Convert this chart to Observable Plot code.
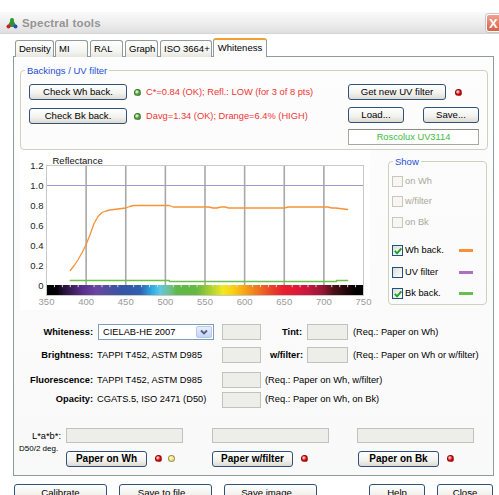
<!DOCTYPE html>
<html><head><meta charset="utf-8">
<script src="https://cdn.jsdelivr.net/npm/d3@7"></script>
<script src="https://cdn.jsdelivr.net/npm/@observablehq/plot@0.6"></script>
<style>
html,body{margin:0;padding:0}
body{width:499px;height:495px;overflow:hidden;background:#fff;font-family:"Liberation Sans",Arial,sans-serif;font-size:9.3px;color:#000}
#win{position:relative;width:499px;height:495px;overflow:hidden}
#win div{position:absolute;box-sizing:border-box;white-space:nowrap}
.title{background:linear-gradient(#fafafa,#ececec 60%,#dedede);border-bottom:1px solid #d4d4d4}
.tab{border:1px solid #919b9c;border-bottom:none;border-radius:3px 3px 0 0;background:linear-gradient(#fff,#f3f3ef 70%,#e6e5de);padding-left:3px;line-height:16px;font-size:9.5px}
.tab.on{background:#fcfcfe;border-top:2px solid #f0a030;line-height:16px;text-align:center;padding:0;z-index:2}
.panel{border:1px solid #919b9c;background:linear-gradient(#fdfdfe,#f9f9fa)}
.grp{border:1px solid #d0d0bf;border-radius:4px}
.glab{color:#1e4fd0;background:#fcfcfe;padding:0 2px;line-height:11px;font-size:9.5px}
.btn{border:1px solid #33507a;border-radius:3px;background:linear-gradient(#ffffff,#f1f1ed 60%,#dcdad3);text-align:center;font-size:9.6px}
.btn.b{font-weight:bold;font-size:10px}
.t{line-height:14px}
.r{text-align:right}
.inp{border:1px solid #c2c2ba;background:#ededea}
.dot{border-radius:50%;border:1px solid rgba(0,0,0,.35)}
.cb{border:1px solid #1c5180;background:linear-gradient(135deg,#dcdcd7,#fff)}
.cb.dis{border-color:#c9c7ba;background:#f6f6f4}
</style></head>
<body><div id="win"></div>
<script>
// ---------- chart data ----------
const whWavelength = [380,385,390,395,400,405,410,415,420,425,430,440,450,455,460,470,480,490,500,505,510,520,530,540,550,555,560,565,570,575,580,590,600,610,620,630,640,650,655,660,670,680,690,700,705,710,715,720,725,730];
const whReflectance = [0.15,0.20,0.26,0.33,0.41,0.51,0.62,0.69,0.73,0.745,0.755,0.765,0.775,0.79,0.80,0.80,0.80,0.80,0.80,0.80,0.785,0.785,0.785,0.785,0.785,0.785,0.775,0.775,0.785,0.785,0.775,0.775,0.775,0.775,0.775,0.775,0.775,0.775,0.785,0.785,0.785,0.785,0.785,0.785,0.785,0.775,0.775,0.77,0.765,0.76];
const bkWavelength = [380,505,716,730];
const bkReflectance = [0.05,0.04,0.05,0.05];
const xTickValues = [350,400,450,500,550,600,650,700,750];
const yTickValues = [0,0.2,0.4,0.6,0.8,1.0,1.2];
const gridWavelengths = [400,450,500,550,600,650,700];
const minorTickWavelengths = [360,370,380,390,410,420,430,440,460,470,480,490,510,520,530,540,560,570,580,590,610,620,630,640,660,670,680,690,710,720,730,740];
const spectrumStops = [350,364,371,384,397,414,431,447,469,485,494,506,515,540,557,573,586,599,616,633,649,666,683,700,712,729,742,750];
const spectrumColors = ["#000000","#050208","#201030","#402060","#5a3090","#6a48a0","#4a50a0","#3555a5","#3060b0","#30b0e8","#60c8e0","#70c090","#60b848","#66b840","#a8d030","#f0e820","#f8d010","#f8a818","#f07820","#e84828","#e82030","#e01838","#c01840","#901830","#501018","#200808","#000000","#000000"];

const W = document.getElementById("win");
function add(cls, l, t, w, h, html, css) {
  const d = document.createElement("div");
  d.className = cls;
  d.style.left = l + "px"; d.style.top = t + "px";
  if (w != null) d.style.width = w + "px";
  if (h != null) d.style.height = h + "px";
  if (html != null) d.innerHTML = html;
  if (css) d.style.cssText += css;
  W.appendChild(d);
  return d;
}
function btn(text, l, t, w, h, bold) { return add("btn" + (bold ? " b" : ""), l, t, w, h, text, `line-height:${h - 2}px`); }
function txt(text, x, cy, css) { return add("t", x, cy - 7, null, 14, text, css || ""); }
function rtxt(text, xr, cy, css) { return add("t r", xr - 160, cy - 7, 160, 14, text, css || ""); }
function dot(cx, cy, c) { return add("dot", cx - 3.5, cy - 3.5, 7, 7, null, `background:radial-gradient(circle at 35% 35%, #fff8, ${c} 55%)`); }
function inp(l, t, w, h) { return add("inp", l, t, w, h); }
const check = `<svg width="10" height="10" style="position:absolute;left:0;top:0"><path d="M1.8 4.8 L4.1 7.3 L8.3 2.3" stroke="#21a121" stroke-width="1.9" fill="none"/></svg>`;

// ---------- window chrome ----------
add("title", 0, 12, 499, 22);
add("", 6, 17, 12, 12, `<svg width="12" height="12"><polygon points="6,1 11,10 1,10" fill="#3a8a3a"/><circle cx="6" cy="3" r="2" fill="#2a9a2a"/><circle cx="2.5" cy="9.5" r="2" fill="#d02020"/><circle cx="9.5" cy="9.5" r="2" fill="#2050c0"/></svg>`);
add("t", 22, 15, null, 16, "Spectral tools", "font-weight:bold;font-size:11.5px;color:#959595;line-height:16px;letter-spacing:0.2px");
add("", 486, 14, 22, 18, `<span style="position:absolute;left:2px;top:0;color:#fff;font-weight:bold;font-size:13px;line-height:17px">X</span>`, "background:linear-gradient(#f0a090,#d86048);border:1px solid #fff;border-radius:3px;box-shadow:0 0 0 1px #c8c8c8");

add("panel", 13, 56, 481, 420);
const tabs = [["Density",15,39],["MI",55,33],["RAL",90,33],["Graph",125,33],["ISO 3664+",160,52]];
tabs.forEach(([s,l,w]) => add("tab", l, 40, w, 17, s));
add("tab on", 213, 38, 54, 19, "Whiteness", "height:19px");

// ---------- Backings / UV filter ----------
add("grp", 20, 70, 468, 80);
add("glab", 25, 65, null, 11, "Backings / UV filter");
btn("Check Wh back.", 29, 84, 98, 16);
btn("Check Bk back.", 29, 108, 98, 16);
dot(137, 92, "#4ea830"); dot(137, 116, "#4ea830");
txt("C*=0.84 (OK); Refl.: LOW (for 3 of 8 pts)", 146, 92, "color:#f03434");
txt("Davg=1.34 (OK); Drange=6.4% (HIGH)", 146, 116, "color:#f03434");
btn("Get new UV filter", 348, 84, 98, 16);
dot(458, 92, "#e00000");
btn("Load...", 348, 107, 56, 16);
btn("Save...", 423, 107, 56, 16);
add("", 348, 129, 131, 16, "Roscolux UV3114", "border:1px solid #a8a8a0;border-top-color:#8a8a84;background:#fff;color:#3cbc3c;text-align:center;line-height:14px");

// ---------- Show group ----------
add("grp", 388, 161, 99, 144);
add("glab", 393, 156, null, 11, "Show");
const showItems = [["on Wh",181,false,false,null],["w/filter",201,false,false,null],["on Bk",222,false,false,null],["Wh back.",250,true,true,"#f7923a"],["UV filter",272,true,false,"#b070c0"],["Bk back.",293,true,true,"#66c050"]];
showItems.forEach(([s,cy,en,chk,col]) => {
  add("cb" + (en ? "" : " dis"), 392, cy - 5.5, 11, 11, chk ? check : "");
  txt(s, 405, cy, en ? "" : "color:#aca899");
  if (col) add("", 459, cy - 1.5, 14, 3, null, `background:${col}`);
});

// ---------- Whiteness form ----------
rtxt("Whiteness:", 93, 332, "font-weight:bold");
add("", 98, 324, 116, 16, `<span style="position:absolute;left:4px;top:0;line-height:14px">CIELAB-HE 2007</span><div style="left:97px;top:1px;width:16px;height:12px;border:1px solid #b8c8e8;border-radius:2px;background:linear-gradient(#e8eefc,#c6d4f4)"><svg width="14" height="10" style="position:absolute;left:0;top:0"><path d="M4 3.5 L7 6.5 L10 3.5" stroke="#4d6185" stroke-width="1.8" fill="none"/></svg></div>`, "border:1px solid #7f9db9;background:#fff");
inp(222, 324, 39, 16);
rtxt("Tint:", 302, 332, "font-weight:bold");
inp(307, 324, 41, 16);
txt("(Req.: Paper on Wh)", 353, 332);

rtxt("Brightness:", 93, 355, "font-weight:bold");
txt("TAPPI T452, ASTM D985", 97, 355);
inp(222, 347, 39, 16);
rtxt("w/filter:", 303, 355, "font-weight:bold");
inp(307, 347, 41, 16);
txt("(Req.: Paper on Wh or w/filter)", 353, 355);

rtxt("Fluorescence:", 93, 380, "font-weight:bold");
txt("TAPPI T452, ASTM D985", 97, 380);
inp(222, 372, 39, 16);
txt("(Req.: Paper on Wh, w/filter)", 265, 380);

rtxt("Opacity:", 93, 399, "font-weight:bold");
txt("CGATS.5, ISO 2471 (D50)", 97, 399);
inp(222, 392, 39, 16);
txt("(Req.: Paper on Wh, on Bk)", 265, 399);

rtxt("L*a*b*:", 61, 436);
txt("D50/2 deg.", 19, 449, "font-size:8px");
inp(66, 428, 117, 15); inp(212, 428, 117, 15); inp(357, 428, 117, 15);
btn("Paper on Wh", 66, 451, 81, 16, true); dot(158, 458, "#e00000"); dot(171, 458, "#f0e070");
btn("Paper w/filter", 212, 451, 81, 16, true); dot(304, 458, "#e00000");
btn("Paper on Bk", 358, 451, 81, 16, true); dot(450, 458, "#e00000");

btn("Calibrate", 14, 484, 93, 18);
btn("Save to file...", 119, 484, 93, 18);
btn("Save image...", 224, 484, 93, 18);
btn("Help", 369, 484, 56, 18);
btn("Close", 437, 484, 56, 18);

// ---------- chart ----------
const whData = whWavelength.map((x, i) => ({x, y: whReflectance[i]}));
const bkData = bkWavelength.map((x, i) => ({x, y: bkReflectance[i]}));
const spec = d3.scaleLinear().domain(spectrumStops).range(spectrumColors).interpolate(d3.interpolateRgb);
const bands = d3.range(350, 750).map(n => ({n, c: spec(n + 0.5)}));

const chart = Plot.plot({
  width: 350, height: 160,
  marginLeft: 26, marginRight: 7, marginTop: 15, marginBottom: 15,
  style: {fontFamily: "Liberation Sans, Arial, sans-serif", fontSize: "9.5px", background: "#fff", overflow: "visible"},
  x: {domain: [350, 750], label: null},
  y: {domain: [-0.1, 1.2], label: null},
  color: {type: "identity"},
  marks: [
    Plot.ruleX(gridWavelengths, {y1: 0, y2: 1.2, stroke: "#a8a8a8", strokeWidth: 1.6}),
    Plot.ruleY([1], {stroke: "#9c9cd0", strokeWidth: 1}),
    Plot.rect(bands, {x1: "n", x2: d => d.n + 1.6, y1: -0.1, y2: 0, fill: "c", shapeRendering: "crispEdges"}),
    Plot.ruleX(minorTickWavelengths, {y1: 0, y2: -0.022, stroke: "#d8d8d8", strokeWidth: 1}),
    Plot.line(whData, {x: "x", y: "y", stroke: "#f7923a", strokeWidth: 1.3}),
    Plot.line(bkData, {x: "x", y: "y", stroke: "#6cc04a", strokeWidth: 1.3, curve: "step-after"}),
    Plot.frame({stroke: "#c8c8c8"}),
    Plot.axisX(xTickValues, {tickSize: 0, tickPadding: 3, fill: "#9a9a9a", label: null}),
    Plot.axisY(yTickValues, {tickSize: 0, tickPadding: 3, fill: "#222", label: null, tickFormat: d => d === 0 ? "0" : d.toFixed(1)}),
    Plot.text(["Reflectance"], {frameAnchor: "top-left", dx: 6, dy: -8, fill: "#111", textAnchor: "start"})
  ]
});
const holder = add("", 20, 150, 350, 160);
holder.appendChild(chart);
</script>
</body></html>
